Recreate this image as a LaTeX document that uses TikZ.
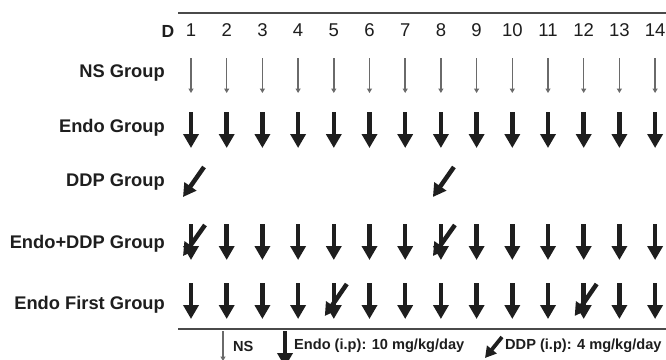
\documentclass[tikz,border=0pt]{standalone}
\usepackage{fontspec}
\setmainfont{Liberation Sans}
\usetikzlibrary{arrows.meta}
\definecolor{ink}{HTML}{1E1E1E}
\definecolor{nsgray}{HTML}{6A6A6A}
\definecolor{rulegray}{HTML}{4A4A4A}
\begin{document}
\begin{tikzpicture}[x=1pt,y=-1pt,
  nsarrow/.style={draw=nsgray, line width=1.5pt, -{Triangle[width=5pt,length=4.5pt]}},
  endoarrow/.style={draw=ink, line width=4.5pt, -{Triangle[width=15pt,length=14pt]}},
  ddparrow/.style={draw=ink, line width=4.5pt, -{Triangle[width=14pt,length=13pt]}},
  ddpleg/.style={draw=ink, line width=3.8pt, -{Triangle[width=12pt,length=11pt]}},
  lbl/.style={font=\bfseries\fontsize{18.3}{20}\selectfont, anchor=east, text=ink, inner sep=0pt},
  num/.style={font=\fontsize{18.5}{20}\selectfont, text=ink, inner sep=0pt},
  leg/.style={font=\bfseries\fontsize{14.6}{16}\selectfont, anchor=west, text=ink, inner sep=0pt},
  hrule/.style={draw=rulegray, line width=2pt}]
\useasboundingbox (0,0) rectangle (666,359);
\clip (0,0) rectangle (666,359);
\fill[white] (0,0) rectangle (666,359);

% rules
\coordinate (tl) at (178,13); \coordinate (tr) at (666,13);
\coordinate (bl) at (178,329); \coordinate (br) at (666,329);
\draw[hrule] (tl) -- (tr);
\draw[hrule] (bl) -- (br);

% header
\node[num, font=\bfseries\fontsize{17.5}{19}\selectfont] (dlab) at (168,31) {D};
\foreach \i in {1,...,14} {
  \pgfmathsetmacro\cx{191+(\i-1)*35.7}
  \node[num] (n\i) at (\cx,30) {\i};
}

% row labels
\node[lbl] (lns)   at (165,73)  {NS Group};
\node[lbl] (lendo) at (165,128) {Endo Group};
\node[lbl] (lddp)  at (165,182) {DDP Group};
\node[lbl] (led)   at (165,244) {Endo+DDP Group};
\node[lbl] (lef)   at (165,305) {Endo First Group};

% arrows
\foreach \i in {1,...,14} {
  \pgfmathsetmacro\cx{191+(\i-1)*35.7}
  \draw[nsarrow]   (\cx,58)  -- (\cx,93);
  \draw[endoarrow] (\cx,112) -- (\cx,148);
  \draw[endoarrow] (\cx,224) -- (\cx,260);
  \draw[endoarrow] (\cx,283) -- (\cx,319);
}
\foreach \i in {1,8} {
  \pgfmathsetmacro\cx{191+(\i-1)*35.7}
  \draw[ddparrow] (\cx+13,167) -- (\cx-8,197);
  \draw[ddparrow] (\cx+14,225) -- (\cx-8,256);
}
\foreach \i in {5,12} {
  \pgfmathsetmacro\cx{191+(\i-1)*35.7}
  \draw[ddparrow] (\cx+13,284) -- (\cx-9,316);
}

% legend
\draw[nsarrow]   (223,331) -- (223,361);
\node[leg] (lgns) at (233,346) {NS};
\draw[endoarrow] (285,331) -- (285,367);
\node[leg] (lgendo) at (294,346) {Endo (i.p): 10 mg/kg/day};
\draw[ddpleg] (502,337) -- (485,358);
\node[leg] (lgddp) at (505,346) {DDP (i.p): 4 mg/kg/day};
\end{tikzpicture}
\end{document}
